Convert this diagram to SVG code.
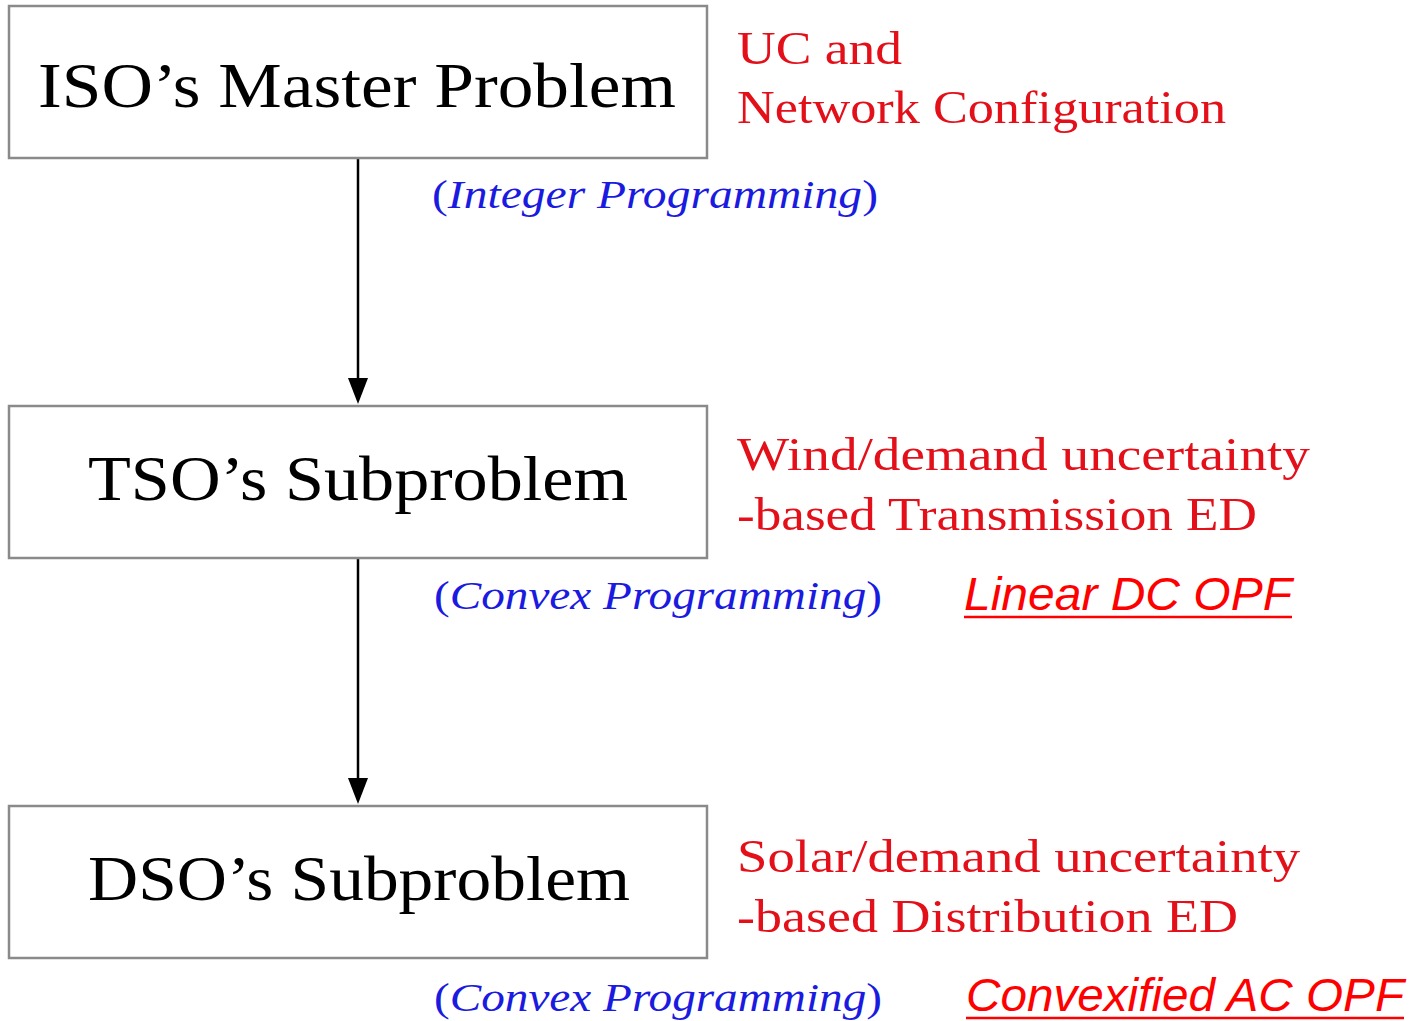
<svg xmlns="http://www.w3.org/2000/svg" width="1416" height="1021" viewBox="0 0 1416 1021">
<defs>
<style>
.box{fill:#fff;stroke:#8a8a8a;stroke-width:2.5}
.title{font-family:"Liberation Serif","DejaVu Serif",serif;font-size:64px;fill:#000}
.red{font-family:"Liberation Serif","DejaVu Serif",serif;font-size:46px;fill:#e3101a}
.blue{font-family:"Liberation Serif","DejaVu Serif",serif;font-size:40px;fill:#1a1ae0}
.it{font-style:italic}
.opf{font-family:"Liberation Sans",Arial,sans-serif;font-style:italic;font-size:46px;fill:#ff0000}
.ul{stroke:#ff0000;stroke-width:2.5}
.conn{stroke:#000;stroke-width:2.5;fill:none}
.head{fill:#000}
</style>
</defs>
<rect width="1416" height="1021" fill="#fff"/>
<g id="connectors">
<line class="conn" x1="358" y1="158" x2="358" y2="380"/>
<path class="head" d="M348,378 L368,378 L358,404 Z"/>
<line class="conn" x1="358" y1="558" x2="358" y2="780"/>
<path class="head" d="M348,778 L368,778 L358,804 Z"/>
</g>
<g id="iso">
<rect class="box" x="9" y="6" width="698" height="152"/>
<text class="title" x="38" y="107" textLength="638" lengthAdjust="spacingAndGlyphs">ISO’s Master Problem</text>
</g>
<g id="tso">
<rect class="box" x="9" y="406" width="698" height="152"/>
<text class="title" x="88" y="500" textLength="540" lengthAdjust="spacingAndGlyphs">TSO’s Subproblem</text>
</g>
<g id="dso">
<rect class="box" x="9" y="806" width="698" height="152"/>
<text class="title" x="88" y="900" textLength="542" lengthAdjust="spacingAndGlyphs">DSO’s Subproblem</text>
</g>
<g id="labels">
<text class="red" x="737" y="64" textLength="165" lengthAdjust="spacingAndGlyphs">UC and</text>
<text class="red" x="737" y="123" textLength="489" lengthAdjust="spacingAndGlyphs">Network Configuration</text>
<text class="blue" x="432" y="208" textLength="446" lengthAdjust="spacingAndGlyphs">(<tspan class="it">Integer Programming</tspan>)</text>
<text class="red" x="737" y="470" textLength="573" lengthAdjust="spacingAndGlyphs">Wind/demand uncertainty</text>
<text class="red" x="737" y="530" textLength="520" lengthAdjust="spacingAndGlyphs">-based Transmission ED</text>
<text class="blue" x="434" y="609" textLength="448" lengthAdjust="spacingAndGlyphs">(<tspan class="it">Convex Programming</tspan>)</text>
<text class="opf" x="964" y="610" textLength="328" lengthAdjust="spacingAndGlyphs">Linear DC OPF</text>
<line class="ul" x1="964" y1="617" x2="1292" y2="617"/>
<text class="red" x="737" y="872" textLength="563" lengthAdjust="spacingAndGlyphs">Solar/demand uncertainty</text>
<text class="red" x="737" y="932" textLength="501" lengthAdjust="spacingAndGlyphs">-based Distribution ED</text>
<text class="blue" x="434" y="1011" textLength="448" lengthAdjust="spacingAndGlyphs">(<tspan class="it">Convex Programming</tspan>)</text>
<text class="opf" x="966" y="1011" textLength="438" lengthAdjust="spacingAndGlyphs">Convexified AC OPF</text>
<line class="ul" x1="966" y1="1018" x2="1404" y2="1018"/>
</g>
</svg>
